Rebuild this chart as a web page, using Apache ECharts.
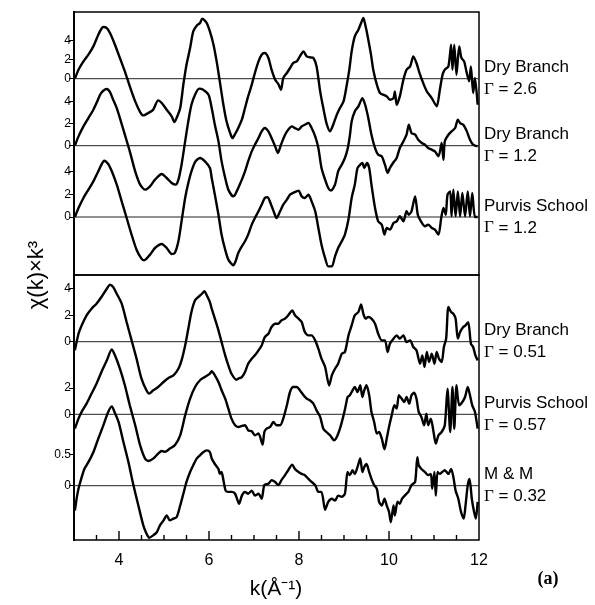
<!DOCTYPE html>
<html>
<head>
<meta charset="utf-8">
<script src="https://cdn.jsdelivr.net/npm/echarts@6/dist/echarts.min.js"></script>
<style>
  html, body { margin: 0; padding: 0; background: #fff; }
  #chart { width: 595px; height: 605px; }
</style>
</head>
<body>
<div id="chart"></div>
<script>
// EXAFS spectra chi(k)*k^3, pairs of [k (1/Å), chi*k^3]
const dryBranch26 = [[3.02,0],[3.10,0.95],[3.21,1.82],[3.32,2.53],[3.43,3.40],[3.54,4.63],[3.61,5.26],[3.65,5.44],[3.73,5.33],[3.80,4.81],[3.91,3.58],[4.02,2.18],[4.13,0.77],[4.24,-0.81],[4.36,-2.39],[4.47,-3.51],[4.54,-3.86],[4.65,-3.61],[4.76,-3.26],[4.87,-2.28],[4.95,-2.56],[5.06,-3.26],[5.17,-3.96],[5.23,-4.56],[5.28,-4.14],[5.36,-3.09],[5.43,-0.63],[5.50,1.47],[5.58,3.23],[5.65,4.98],[5.73,5.61],[5.80,5.86],[5.85,6.32],[5.95,5.86],[6.02,4.98],[6.10,3.58],[6.17,1.82],[6.24,-0.28],[6.32,-2.74],[6.39,-4.49],[6.47,-5.72],[6.52,-6.25],[6.58,-5.82],[6.65,-5.19],[6.73,-4.32],[6.80,-3.09],[6.87,-1.86],[6.95,-0.63],[7.02,0.60],[7.10,1.82],[7.17,2.53],[7.24,2.70],[7.32,2.18],[7.39,0.95],[7.47,-0.10],[7.54,-0.56],[7.60,-1.16],[7.65,0.07],[7.73,0.60],[7.80,1.12],[7.87,1.65],[7.95,1.82],[8.02,2.35],[8.10,2.88],[8.17,2.35],[8.24,2.25],[8.32,2.18],[8.39,1.30],[8.47,-1.33],[8.54,-3.09],[8.61,-4.67],[8.69,-5.54],[8.76,-4.84],[8.84,-3.79],[8.91,-3.09],[8.99,-2.39],[9.06,-0.70],[9.12,1.00],[9.17,2.88],[9.24,4.46],[9.32,5.16],[9.38,5.86],[9.43,6.39],[9.48,5.51],[9.54,4.11],[9.60,2.53],[9.65,0.95],[9.73,-0.63],[9.80,-1.51],[9.87,-1.68],[9.95,-1.86],[10.02,-2.21],[10.10,-2.04],[10.13,-1.33],[10.17,-2.74],[10.24,-1.86],[10.32,-0.10],[10.39,0.95],[10.47,1.30],[10.54,2.35],[10.61,1.65],[10.69,0.42],[10.76,-0.46],[10.84,-1.33],[10.95,-2.04],[11.06,-2.91],[11.13,-1.16],[11.19,0.42],[11.24,0.95],[11.32,1.30],[11.38,3.58],[11.41,0.95],[11.45,3.58],[11.50,0.42],[11.56,3.40],[11.61,2.18],[11.67,1.82],[11.72,0.77],[11.78,-0.28],[11.82,1.30],[11.87,-1.51],[11.91,0.07],[11.97,-2.74]];

const dryBranch12 = [[3.02,0],[3.10,0.84],[3.21,1.74],[3.32,2.49],[3.43,3.24],[3.50,3.84],[3.58,4.59],[3.65,4.95],[3.73,5.11],[3.80,4.83],[3.87,4.14],[3.95,3.39],[4.02,2.49],[4.13,0.99],[4.24,-0.51],[4.36,-2.31],[4.47,-3.51],[4.58,-3.96],[4.69,-3.66],[4.80,-3.06],[4.95,-2.55],[5.06,-2.91],[5.17,-3.36],[5.26,-3.51],[5.32,-3.06],[5.39,-1.71],[5.47,0.39],[5.54,2.19],[5.61,3.69],[5.69,4.59],[5.78,5.14],[5.87,5.05],[5.99,4.59],[6.06,3.39],[6.13,1.89],[6.21,0.39],[6.28,-1.41],[6.36,-2.91],[6.43,-3.96],[6.54,-4.56],[6.58,-4.41],[6.65,-3.81],[6.73,-3.06],[6.80,-2.31],[6.87,-1.41],[6.95,-0.51],[7.02,0.09],[7.10,0.69],[7.17,1.29],[7.24,1.59],[7.32,1.29],[7.39,0.69],[7.47,-0.06],[7.53,-0.66],[7.60,0.09],[7.69,0.99],[7.76,1.44],[7.84,1.74],[7.91,1.59],[7.99,1.44],[8.06,1.74],[8.13,1.89],[8.21,2.04],[8.28,1.59],[8.36,0.84],[8.43,-0.21],[8.50,-2.01],[8.58,-3.06],[8.65,-3.81],[8.71,-4.05],[8.80,-3.51],[8.87,-2.31],[8.95,-1.71],[9.02,-1.11],[9.08,-0.30],[9.13,0.90],[9.17,2.19],[9.24,3.09],[9.32,3.54],[9.41,4.29],[9.47,3.69],[9.54,2.49],[9.61,0.99],[9.69,-0.21],[9.76,-0.81],[9.84,-0.96],[9.91,-1.71],[9.97,-2.46],[10.02,-2.01],[10.09,-1.56],[10.17,-1.11],[10.24,-0.21],[10.32,0.39],[10.39,0.99],[10.44,1.89],[10.50,1.14],[10.58,0.99],[10.65,0.54],[10.73,0.24],[10.80,0.09],[10.87,-0.21],[10.95,-0.36],[11.02,-0.51],[11.10,-0.96],[11.17,0.24],[11.21,-1.26],[11.24,0.39],[11.32,0.99],[11.39,1.29],[11.47,1.59],[11.53,2.34],[11.58,2.04],[11.65,1.89],[11.73,1.29],[11.80,0.54],[11.87,0.09],[11.97,-0.06]];

const purvis12 = [[3.02,0],[3.10,0.79],[3.21,1.67],[3.32,2.40],[3.43,3.13],[3.54,4.01],[3.61,4.59],[3.67,4.94],[3.76,4.65],[3.84,4.01],[3.95,2.84],[4.06,1.37],[4.17,-0.09],[4.28,-1.55],[4.39,-2.87],[4.50,-3.65],[4.56,-3.80],[4.69,-3.30],[4.80,-2.72],[4.95,-2.37],[5.06,-2.72],[5.17,-3.25],[5.24,-3.16],[5.32,-2.13],[5.39,-0.38],[5.47,1.67],[5.54,2.98],[5.61,4.01],[5.70,4.88],[5.80,5.18],[5.91,4.88],[6.02,4.30],[6.06,3.42],[6.13,1.96],[6.21,0.20],[6.28,-1.55],[6.36,-2.87],[6.43,-3.74],[6.54,-4.24],[6.59,-3.89],[6.65,-3.16],[6.73,-2.57],[6.80,-2.13],[6.87,-1.55],[6.95,-0.67],[7.02,-0.09],[7.10,0.50],[7.17,1.08],[7.24,1.67],[7.30,1.73],[7.38,1.08],[7.45,0.35],[7.50,-0.09],[7.58,0.50],[7.65,1.08],[7.73,1.52],[7.80,1.96],[7.87,2.11],[7.99,2.31],[8.06,1.81],[8.13,1.67],[8.21,1.96],[8.28,1.37],[8.36,0.50],[8.43,-0.96],[8.50,-2.43],[8.58,-3.60],[8.65,-4.33],[8.73,-4.33],[8.80,-3.45],[8.87,-2.72],[8.95,-2.13],[9.02,-1.55],[9.10,-0.20],[9.17,1.67],[9.24,2.84],[9.30,4.30],[9.36,4.59],[9.41,4.74],[9.45,4.30],[9.51,4.74],[9.56,4.30],[9.61,2.84],[9.69,0.79],[9.76,-0.38],[9.84,-0.67],[9.90,-1.55],[9.95,-0.96],[10.02,-1.11],[10.10,-0.53],[10.17,-0.38],[10.24,0.06],[10.32,-0.38],[10.39,0.50],[10.44,0.20],[10.50,0.50],[10.58,1.81],[10.64,0.20],[10.71,-0.38],[10.80,-0.82],[10.87,-0.67],[10.95,-0.96],[11.02,-1.11],[11.10,-1.55],[11.16,-0.09],[11.21,0.79],[11.26,0.20],[11.30,1.96],[11.36,2.25],[11.39,0.06],[11.43,2.40],[11.48,0.06],[11.53,2.25],[11.58,0.06],[11.63,2.11],[11.69,0.06],[11.75,2.25],[11.80,0.06],[11.85,2.11],[11.91,0],[11.97,0]];

const dryBranch051 = [[3.02,-0.65],[3.10,0.60],[3.17,1.23],[3.28,1.99],[3.39,2.49],[3.50,2.87],[3.61,3.37],[3.73,4.00],[3.80,4.30],[3.87,4.13],[3.95,3.62],[4.06,2.87],[4.17,1.48],[4.28,0.10],[4.39,-1.28],[4.50,-2.79],[4.61,-3.67],[4.67,-3.92],[4.76,-3.67],[4.87,-3.42],[4.99,-3.04],[5.10,-2.74],[5.21,-2.54],[5.32,-2.04],[5.39,-1.41],[5.47,-0.28],[5.54,0.98],[5.61,2.24],[5.69,3.12],[5.76,3.37],[5.84,3.60],[5.90,3.82],[5.95,3.50],[6.02,2.99],[6.06,2.49],[6.13,1.74],[6.21,0.86],[6.28,-0.03],[6.36,-1.03],[6.43,-1.79],[6.50,-2.42],[6.61,-2.87],[6.65,-2.79],[6.73,-2.67],[6.80,-2.29],[6.87,-1.66],[6.95,-1.28],[7.02,-1.03],[7.10,-0.65],[7.17,-0.28],[7.24,0.35],[7.32,0.60],[7.39,1.11],[7.47,1.36],[7.54,1.36],[7.61,1.61],[7.69,1.74],[7.76,1.99],[7.85,2.36],[7.91,1.99],[7.99,1.74],[8.06,1.48],[8.13,0.73],[8.21,0.48],[8.28,0.48],[8.36,0.10],[8.43,-0.53],[8.50,-1.28],[8.58,-1.91],[8.67,-3.30],[8.73,-2.54],[8.80,-2.04],[8.87,-1.66],[8.95,-0.91],[9.02,-0.78],[9.10,0.48],[9.17,1.23],[9.24,1.99],[9.32,2.24],[9.38,2.82],[9.43,2.11],[9.48,1.74],[9.54,1.86],[9.61,1.74],[9.69,1.36],[9.76,0.60],[9.84,0.10],[9.91,0.10],[9.97,-0.78],[10.02,-0.15],[10.10,0.23],[10.17,0.48],[10.24,0.23],[10.32,0.48],[10.39,-0.03],[10.47,0.10],[10.54,-0.40],[10.61,-0.65],[10.69,-1.66],[10.74,-1.03],[10.79,-1.91],[10.84,-0.78],[10.89,-1.53],[10.95,-0.91],[11.01,-1.66],[11.06,-0.78],[11.11,-1.28],[11.17,-1.53],[11.22,-0.40],[11.27,0.23],[11.32,2.62],[11.38,2.24],[11.43,2.11],[11.48,1.74],[11.53,0.23],[11.58,0.73],[11.65,1.11],[11.70,1.23],[11.76,1.48],[11.82,-0.15],[11.87,-0.40],[11.92,-1.03],[11.97,-1.41]];

const purvis057 = [[3.02,-1.09],[3.10,-0.33],[3.17,0.18],[3.28,0.81],[3.39,1.57],[3.50,2.32],[3.61,3.21],[3.73,4.09],[3.84,4.92],[3.91,4.47],[4.02,3.46],[4.13,2.20],[4.24,0.68],[4.36,-0.83],[4.47,-2.35],[4.58,-3.36],[4.65,-3.54],[4.76,-3.36],[4.87,-2.98],[4.95,-2.78],[5.02,-2.85],[5.13,-2.60],[5.24,-2.35],[5.36,-1.59],[5.47,-0.08],[5.58,1.19],[5.69,2.07],[5.80,2.58],[5.91,2.83],[6.02,3.08],[6.06,3.26],[6.13,2.95],[6.21,2.45],[6.28,1.82],[6.36,1.19],[6.43,0.43],[6.50,-0.33],[6.58,-0.83],[6.65,-0.96],[6.73,-0.88],[6.80,-0.83],[6.87,-1.21],[6.95,-1.29],[7.02,-1.59],[7.10,-1.46],[7.19,-2.30],[7.23,-1.34],[7.28,-1.09],[7.36,-0.96],[7.43,-0.58],[7.50,-0.83],[7.58,-0.83],[7.65,-0.33],[7.73,0.68],[7.80,1.69],[7.87,2.07],[7.95,2.07],[8.02,1.82],[8.10,1.44],[8.17,1.19],[8.24,1.06],[8.32,0.81],[8.39,0.30],[8.47,-0.20],[8.54,-1.09],[8.61,-1.34],[8.69,-1.59],[8.78,-1.97],[8.84,-1.72],[8.91,-1.09],[8.99,-0.08],[9.04,0.68],[9.08,1.31],[9.13,1.44],[9.19,1.82],[9.24,2.07],[9.30,1.69],[9.36,2.20],[9.41,1.31],[9.45,1.82],[9.50,2.20],[9.56,1.44],[9.61,0.18],[9.67,-0.58],[9.73,-1.46],[9.78,-1.34],[9.84,-1.84],[9.90,-2.65],[9.95,-1.84],[10.00,-0.96],[10.06,-0.08],[10.12,0.68],[10.17,0.43],[10.22,1.44],[10.28,1.19],[10.34,0.93],[10.39,1.31],[10.45,0.81],[10.50,1.44],[10.56,1.64],[10.61,1.19],[10.66,0.18],[10.72,-0.20],[10.78,-0.83],[10.83,0.05],[10.87,-0.83],[10.93,-0.33],[10.99,-1.34],[11.04,-2.22],[11.10,-1.59],[11.17,-1.34],[11.24,-0.83],[11.30,1.94],[11.36,-1.34],[11.41,2.07],[11.45,-1.09],[11.50,2.20],[11.56,0.68],[11.63,0.93],[11.69,1.31],[11.75,2.07],[11.80,1.44],[11.85,0.68],[11.91,0.18],[11.97,-1.09]];

const mAndM032 = [[3.02,-0.40],[3.04,-0.30],[3.06,-0.20],[3.10,-0.05],[3.16,0.11],[3.23,0.27],[3.32,0.38],[3.43,0.54],[3.54,0.76],[3.65,0.97],[3.76,1.19],[3.84,1.28],[3.90,1.19],[3.99,1.03],[4.10,0.70],[4.21,0.38],[4.32,0.01],[4.43,-0.32],[4.54,-0.64],[4.61,-0.77],[4.67,-0.84],[4.76,-0.80],[4.84,-0.75],[4.91,-0.64],[4.99,-0.56],[5.06,-0.48],[5.13,-0.56],[5.21,-0.53],[5.28,-0.51],[5.36,-0.32],[5.43,-0.13],[5.50,0.06],[5.58,0.22],[5.65,0.33],[5.73,0.44],[5.80,0.49],[5.87,0.54],[5.95,0.57],[6.02,0.54],[6.06,0.44],[6.13,0.35],[6.21,0.27],[6.24,0.19],[6.28,0.22],[6.32,0.09],[6.37,-0.08],[6.43,-0.10],[6.50,-0.10],[6.58,-0.13],[6.67,-0.29],[6.73,-0.16],[6.80,-0.10],[6.87,-0.13],[6.95,-0.08],[7.02,-0.16],[7.10,-0.13],[7.17,-0.21],[7.23,0.01],[7.32,0.03],[7.39,0.09],[7.47,0.06],[7.54,0.01],[7.61,0.09],[7.69,0.17],[7.76,0.25],[7.85,0.34],[7.91,0.27],[7.99,0.22],[8.06,0.19],[8.13,0.17],[8.21,0.11],[8.28,0.06],[8.36,0.01],[8.43,-0.10],[8.50,-0.10],[8.58,-0.39],[8.65,-0.26],[8.73,-0.21],[8.80,-0.24],[8.87,-0.16],[8.95,-0.18],[9.02,-0.13],[9.08,0.22],[9.13,0.17],[9.19,0.25],[9.24,0.19],[9.30,0.30],[9.36,0.44],[9.41,0.22],[9.45,0.30],[9.50,0.35],[9.56,0.22],[9.61,0.11],[9.67,0.01],[9.73,-0.05],[9.78,-0.26],[9.84,-0.32],[9.90,-0.21],[9.95,-0.32],[10.00,-0.42],[10.04,-0.59],[10.10,-0.32],[10.13,-0.48],[10.19,-0.26],[10.24,-0.29],[10.29,-0.21],[10.35,-0.16],[10.43,-0.10],[10.50,0.01],[10.58,0.06],[10.63,0.46],[10.66,0.33],[10.72,0.27],[10.80,0.22],[10.87,0.17],[10.93,0.19],[10.96,-0.05],[11.01,0.22],[11.04,-0.16],[11.08,0.22],[11.13,0.19],[11.18,0.22],[11.24,0.25],[11.32,0.19],[11.38,0.27],[11.43,0.14],[11.48,-0.08],[11.54,-0.21],[11.60,-0.42],[11.66,-0.53],[11.70,-0.32],[11.75,0.01],[11.79,0.11],[11.84,-0.21],[11.89,-0.42],[11.93,-0.53],[11.97,-0.26]];

const spectra = [dryBranch26, dryBranch12, purvis12, dryBranch051, purvis057, mAndM032];
const sampleNames = ['Dry Branch', 'Dry Branch', 'Purvis School', 'Dry Branch', 'Purvis School', 'M & M'];
const gammaValues = ['2.6', '1.2', '1.2', '0.51', '0.57', '0.32'];
const yTickValues = [[0, 2, 4], [0, 2, 4], [0, 2, 4], [0, 2, 4], [0, 2], [0, 0.5]];
const xTickLabels = [4, 6, 8, 10, 12];
const xMajorTicks = [4, 6, 8, 10];
const kRange = [3, 12];

// ---- layout (pixels) ----
const FONT = '"Liberation Sans", Arial, Helvetica, sans-serif';
const SERIF = '"Liberation Serif", "Times New Roman", serif';
const PLOT_LEFT = 74, PLOT_RIGHT = 479;
const panels = [{ top: 12, bottom: 275 }, { top: 275, bottom: 540 }];
// each trace: panel, pixel row of its zero line, pixels per unit
const traceLayout = [
  { panel: 0, zero: 78.7, ppu: 9.5 },
  { panel: 0, zero: 145.7, ppu: 11.1 },
  { panel: 0, zero: 217, ppu: 11.4 },
  { panel: 1, zero: 341.7, ppu: 13.25 },
  { panel: 1, zero: 414.3, ppu: 13.2 },
  { panel: 1, zero: 485.7, ppu: 62 }
];

// k positions of the inward tick marks on the bottom frame (every 0.5)
const kTicks = [];
for (let k = kRange[0] + 0.5; k < kRange[1]; k += 0.5) kTicks.push(k);

const grid = panels.map(p => ({
  left: PLOT_LEFT, top: p.top, width: PLOT_RIGHT - PLOT_LEFT, height: p.bottom - p.top,
  show: true, borderColor: '#000', borderWidth: 1.5
}));

const xAxis = [
  { gridIndex: 0, type: 'value', min: kRange[0], max: kRange[1], show: false },
  {
    gridIndex: 1, type: 'value', position: 'bottom', min: kRange[0], max: kRange[1],
    axisLine: { show: false, onZero: false }, splitLine: { show: false },
    axisTick: { show: false },
    axisLabel: { customValues: xTickLabels, margin: 13, fontSize: 16, color: '#000', fontFamily: FONT }
  }
];

const yAxis = traceLayout.map((t, i) => {
  const p = panels[t.panel];
  return {
    type: 'value', gridIndex: t.panel, position: 'left',
    min: -(p.bottom - t.zero) / t.ppu, max: (t.zero - p.top) / t.ppu,
    splitLine: { show: false },
    axisLine: { show: true, onZero: false, lineStyle: { color: '#000', width: 2 } },
    axisTick: { show: true, length: 5, customValues: yTickValues[i], lineStyle: { color: '#000', width: 1 } },
    axisLabel: { customValues: yTickValues[i], margin: 3, fontSize: 12, color: '#000', fontFamily: FONT }
  };
});

const series = [];
spectra.forEach((data, i) => {
  const xi = traceLayout[i].panel === 0 ? 0 : 1;
  // zero baseline with the sample label at its right end
  series.push({
    type: 'line', xAxisIndex: xi, yAxisIndex: i,
    data: [[kRange[0], 0], [kRange[1], 0]],
    showSymbol: false, silent: true, z: 2,
    lineStyle: { color: '#222', width: 1 },
    endLabel: {
      show: true, distance: 5,
      formatter: () => '{n|' + sampleNames[i] + '}\n{g|Γ}{n| = ' + gammaValues[i] + '}',
      rich: {
        n: { fontFamily: FONT, fontSize: 17, color: '#000', lineHeight: 22 },
        g: { fontFamily: SERIF, fontSize: 17, color: '#000', lineHeight: 22 }
      }
    }
  });
  series.push({
    type: 'line', xAxisIndex: xi, yAxisIndex: i, data,
    showSymbol: false, smooth: 0.25, z: 3,
    lineStyle: { color: '#000', width: 2.4 }
  });
});

// inward k tick marks standing on the bottom frame, longer on the even values
const lowestAxis = yAxis[yAxis.length - 1];
series.push({
  type: 'custom', xAxisIndex: 1, yAxisIndex: yAxis.length - 1, silent: true, z: 4,
  data: kTicks.map(k => [k, lowestAxis.min]),
  renderItem: (params, api) => {
    const k = api.value(0);
    const p = api.coord([k, api.value(1)]);
    const len = xMajorTicks.indexOf(k) >= 0 ? 9 : 5;
    return {
      type: 'line',
      shape: { x1: p[0], y1: p[1], x2: p[0], y2: p[1] - len },
      style: { stroke: '#000', lineWidth: 1.4 }
    };
  }
});

const chart = echarts.init(document.getElementById('chart'), null, { renderer: 'canvas' });
chart.setOption({
  animation: false,
  backgroundColor: '#fff',
  grid, xAxis, yAxis, series,
  graphic: [
    {
      type: 'text', x: 37, y: 275, rotation: Math.PI / 2,
      style: { text: 'χ(k)×k³', font: '22px ' + FONT, fill: '#000', textAlign: 'center', textVerticalAlign: 'middle' }
    },
    {
      type: 'text', x: 276, y: 589,
      style: { text: 'k(Å⁻¹)', font: '21px ' + FONT, fill: '#000', textAlign: 'center', textVerticalAlign: 'middle' }
    },
    {
      type: 'text', x: 548, y: 579,
      style: { text: '(a)', font: 'bold 18px ' + SERIF, fill: '#000', textAlign: 'center', textVerticalAlign: 'middle' }
    }
  ]
});
</script>
</body>
</html>
